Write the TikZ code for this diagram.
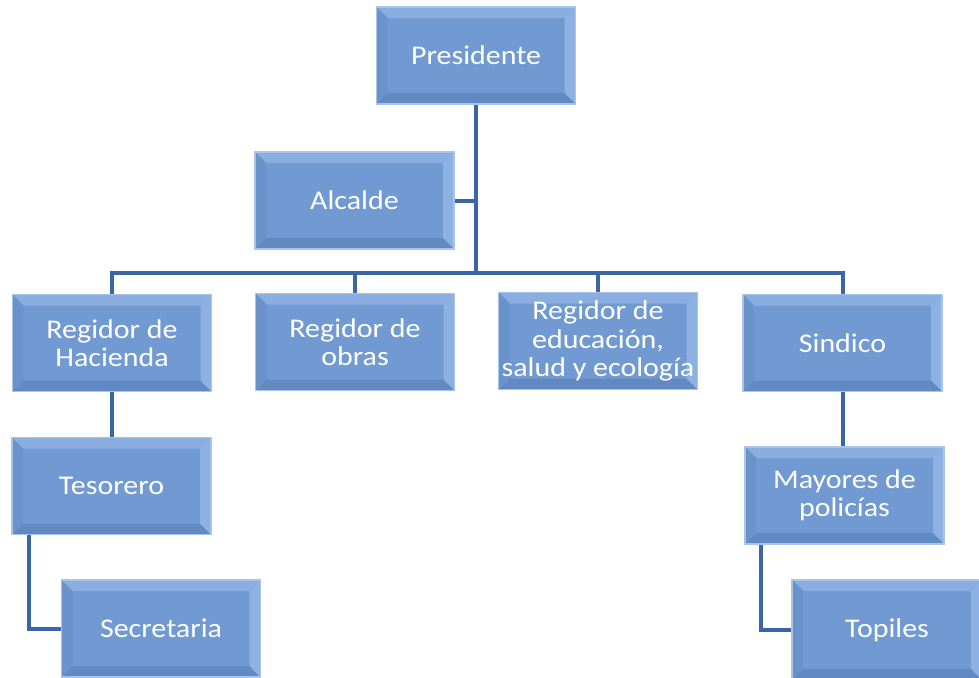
\documentclass[tikz,border=0pt]{standalone}
\usepackage{fontspec}
\setmainfont{Carlito}[FakeStretch=1.11]
\definecolor{boxface}{HTML}{719AD3}
\definecolor{bevtop}{HTML}{8BAEE0}
\definecolor{bevleft}{HTML}{6A92CB}
\definecolor{bevright}{HTML}{8DB1E2}
\definecolor{bevbot}{HTML}{6189C2}
\definecolor{boxedge}{HTML}{A8C4EA}
\definecolor{linec}{HTML}{3A66A3}
\tikzset{
  orgbox/.style={draw=boxedge, line width=1.5pt, fill=boxface, text=white,
    minimum width=199pt, minimum height=97pt, inner sep=0pt, align=center,
    font=\fontsize{27}{28.5}\selectfont,
    path picture={
      \fill[bevtop] (path picture bounding box.north west) -- (path picture bounding box.north east)
        -- ([xshift=-11pt,yshift=-11pt]path picture bounding box.north east)
        -- ([xshift=11pt,yshift=-11pt]path picture bounding box.north west) -- cycle;
      \fill[bevbot] (path picture bounding box.south west) -- (path picture bounding box.south east)
        -- ([xshift=-11pt,yshift=11pt]path picture bounding box.south east)
        -- ([xshift=11pt,yshift=11pt]path picture bounding box.south west) -- cycle;
      \fill[bevleft] (path picture bounding box.north west) -- (path picture bounding box.south west)
        -- ([xshift=11pt,yshift=11pt]path picture bounding box.south west)
        -- ([xshift=11pt,yshift=-11pt]path picture bounding box.north west) -- cycle;
      \fill[bevright] (path picture bounding box.north east) -- (path picture bounding box.south east)
        -- ([xshift=-11pt,yshift=11pt]path picture bounding box.south east)
        -- ([xshift=-11pt,yshift=-11pt]path picture bounding box.north east) -- cycle;
    }},
  conn/.style={draw=linec, line width=4pt, line join=miter}
}
\begin{document}
\begin{tikzpicture}[x=1pt,y=1pt]
\useasboundingbox[fill=white] (0,0) rectangle (979,-677);
\node[orgbox] (pres) at (476,-55.5) {Presidente};
\node[orgbox] (alc) at (354.5,-200.5) {Alcalde};
\node[orgbox] (rh) at (112,-343) {Regidor de\\Hacienda};
\node[orgbox] (ro) at (355,-342) {Regidor de\\obras};
\node[orgbox] (re) at (598,-341) {Regidor de\\educación,\\salud y ecología};
\node[orgbox] (sin) at (842.5,-343) {Sindico};
\node[orgbox] (tes) at (111.5,-486) {Tesorero};
\node[orgbox] (sec) at (161,-628.5) {Secretaria};
\node[orgbox] (may) at (844.5,-495.5) {Mayores de\\policías};
\node[orgbox, minimum width=190pt, minimum height=100pt] (top) at (887,-630) {Topiles};
\coordinate (busL) at (112,-273);
\draw[conn] (pres.south) -- (pres.south |- busL);
\draw[conn] (alc.east) -- (alc.east -| pres.south);
\draw[conn] (rh.north) -- (rh.north |- busL) -- (sin.north |- busL) -- (sin.north);
\draw[conn] (ro.north) -- (ro.north |- busL);
\draw[conn] (re.north) -- (re.north |- busL);
\draw[conn] (rh.south) -- (rh.south |- tes.north);
\draw[conn] (sin.south) -- (sin.south |- may.north);
\draw[conn] ([xshift=18pt]tes.south west) |- (sec.west);
\draw[conn] ([xshift=17pt]may.south west) |- (top.west);
\end{tikzpicture}
\end{document}
